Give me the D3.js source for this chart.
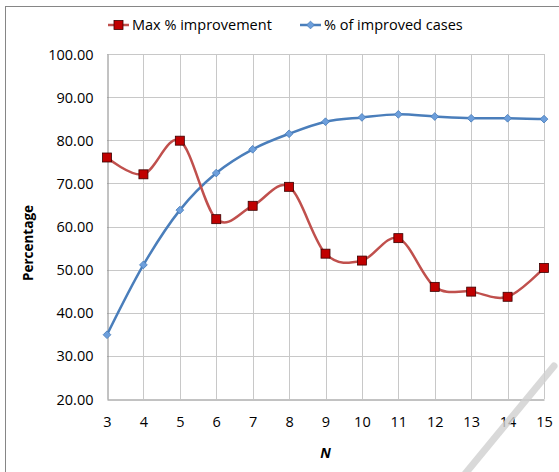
<!DOCTYPE html>
<html>
<head>
<meta charset="utf-8">
<script src="https://cdn.jsdelivr.net/npm/d3@7"></script>
<style>
  body { margin: 0; background: #fff; }
  svg text { font-family: "Open Sans", "Liberation Sans", sans-serif; fill: #000; }
</style>
</head>
<body>
<div id="chart"></div>
<script>
const nValues = [3, 4, 5, 6, 7, 8, 9, 10, 11, 12, 13, 14, 15]
const maxImprovement = [76.0, 72.1, 79.9, 61.7, 64.8, 69.2, 53.7, 52.1, 57.3, 46.0, 44.9, 43.7, 50.4]
const improvedCases = [34.9, 51.1, 63.8, 72.4, 77.9, 81.5, 84.3, 85.3, 86.0, 85.5, 85.1, 85.1, 84.9]
const yTicks = [20, 30, 40, 50, 60, 70, 80, 90, 100]
const seriesNames = ['Max % improvement', '% of improved cases']

const width = 559, height = 472
const margin = { top: 54, right: 15, bottom: 73, left: 107 }

const svg = d3.select('#chart')
    .append('svg')
    .attr('width', width)
    .attr('height', height)

// outer chart border (only top and left edges show in the frame)
svg.append('rect')
    .attr('x', 5.5).attr('y', 6.5)
    .attr('width', width + 10).attr('height', height + 10)
    .attr('fill', 'none')
    .attr('stroke', '#868686')

const x = d3.scaleLinear().domain([3, 15]).range([margin.left, width - margin.right])
const y = d3.scaleLinear().domain([20, 100]).range([height - margin.bottom, margin.top])

// gridlines
svg.append('g')
    .selectAll('line')
    .data(yTicks.slice(1))
    .join('line')
    .attr('x1', x(3)).attr('x2', x(15))
    .attr('y1', d => Math.round(y(d)) + 0.5).attr('y2', d => Math.round(y(d)) + 0.5)
    .attr('stroke', '#c8c8c8')

svg.append('g')
    .selectAll('line')
    .data(nValues.slice(1))
    .join('line')
    .attr('x1', d => Math.round(x(d)) + 0.5).attr('x2', d => Math.round(x(d)) + 0.5)
    .attr('y1', y(100)).attr('y2', y(20))
    .attr('stroke', '#c8c8c8')

// axes
const yAxis = svg.append('g')
    .attr('transform', 'translate(' + (Math.round(x(3)) + 0.5) + ',0)')
    .call(d3.axisLeft(y).tickValues(yTicks).tickFormat(d3.format('.2f')).tickSize(0).tickPadding(14))
yAxis.select('.domain').attr('stroke', '#868686')
yAxis.selectAll('text').attr('font-size', 14.5).attr('dy', '0.35em')

const xAxis = svg.append('g')
    .attr('transform', 'translate(0,' + (Math.round(y(20)) + 0.5) + ')')
    .call(d3.axisBottom(x).tickValues(nValues).tickFormat(d3.format('d')).tickSize(0).tickPadding(17))
xAxis.select('.domain').attr('stroke', '#868686')
xAxis.selectAll('text').attr('font-size', 14.5)

// axis titles
svg.append('text')
    .attr('x', x(9)).attr('y', 458)
    .attr('text-anchor', 'middle')
    .attr('font-size', 14)
    .attr('font-weight', 'bold')
    .attr('font-style', 'italic')
    .text('N')

svg.append('text')
    .attr('transform', 'translate(33,' + 243 + ') rotate(-90)')
    .attr('text-anchor', 'middle')
    .attr('font-size', 13.5)
    .attr('font-weight', 'bold')
    .text('Percentage')

// lines
const line = d3.line()
    .x((d, i) => x(nValues[i]))
    .y(d => y(d))
    .curve(d3.curveCatmullRom.alpha(0))

svg.append('path')
    .datum(improvedCases)
    .attr('fill', 'none')
    .attr('stroke', '#4a7ebb')
    .attr('stroke-width', 2.5)
    .attr('d', line)

svg.append('path')
    .datum(maxImprovement)
    .attr('fill', 'none')
    .attr('stroke', '#c0504d')
    .attr('stroke-width', 2.5)
    .attr('d', line)

const diamond = d3.symbol().type(d3.symbolSquare).size(30)

svg.append('g')
    .selectAll('path')
    .data(improvedCases)
    .join('path')
    .attr('transform', (d, i) => 'translate(' + x(nValues[i]) + ',' + y(d) + ') rotate(45)')
    .attr('d', diamond)
    .attr('fill', '#6d9fdc')
    .attr('stroke', '#4a7ebb')
    .attr('stroke-width', 0.8)

svg.append('g')
    .selectAll('rect')
    .data(maxImprovement)
    .join('rect')
    .attr('x', (d, i) => x(nValues[i]) - 4.5)
    .attr('y', d => y(d) - 4.5)
    .attr('width', 9).attr('height', 9)
    .attr('fill', '#c00000')
    .attr('stroke', '#3a0000')
    .attr('stroke-width', 0.8)

// legend
const legend = svg.append('g').attr('transform', 'translate(0,25)')
const legendItems = [
  { name: seriesNames[0], x: 108, color: '#c0504d', marker: 'square' },
  { name: seriesNames[1], x: 300, color: '#4a7ebb', marker: 'diamond' }
]
legendItems.forEach(item => {
  legend.append('line')
      .attr('x1', item.x).attr('x2', item.x + 21)
      .attr('y1', 0).attr('y2', 0)
      .attr('stroke', item.color)
      .attr('stroke-width', 2.5)
  if (item.marker === 'square') {
    legend.append('rect')
        .attr('x', item.x + 6).attr('y', -4.5)
        .attr('width', 9).attr('height', 9)
        .attr('fill', '#c00000')
        .attr('stroke', '#3a0000')
        .attr('stroke-width', 0.8)
  } else {
    legend.append('path')
        .attr('transform', 'translate(' + (item.x + 10.5) + ',0) rotate(45)')
        .attr('d', diamond)
        .attr('fill', '#6d9fdc')
        .attr('stroke', '#4a7ebb')
        .attr('stroke-width', 0.8)
  }
  legend.append('text')
      .attr('x', item.x + 24).attr('y', 0)
      .attr('dy', '0.35em')
      .attr('font-size', 14.5)
      .text(item.name)
})

// faint diagonal stroke in the lower right corner
svg.append('line')
    .attr('x1', 460).attr('y1', 480)
    .attr('x2', 554).attr('y2', 366)
    .attr('stroke', '#d0d0d0')
    .attr('stroke-opacity', 0.8)
    .attr('stroke-width', 7)
    .attr('stroke-linecap', 'round')
</script>
</body>
</html>
